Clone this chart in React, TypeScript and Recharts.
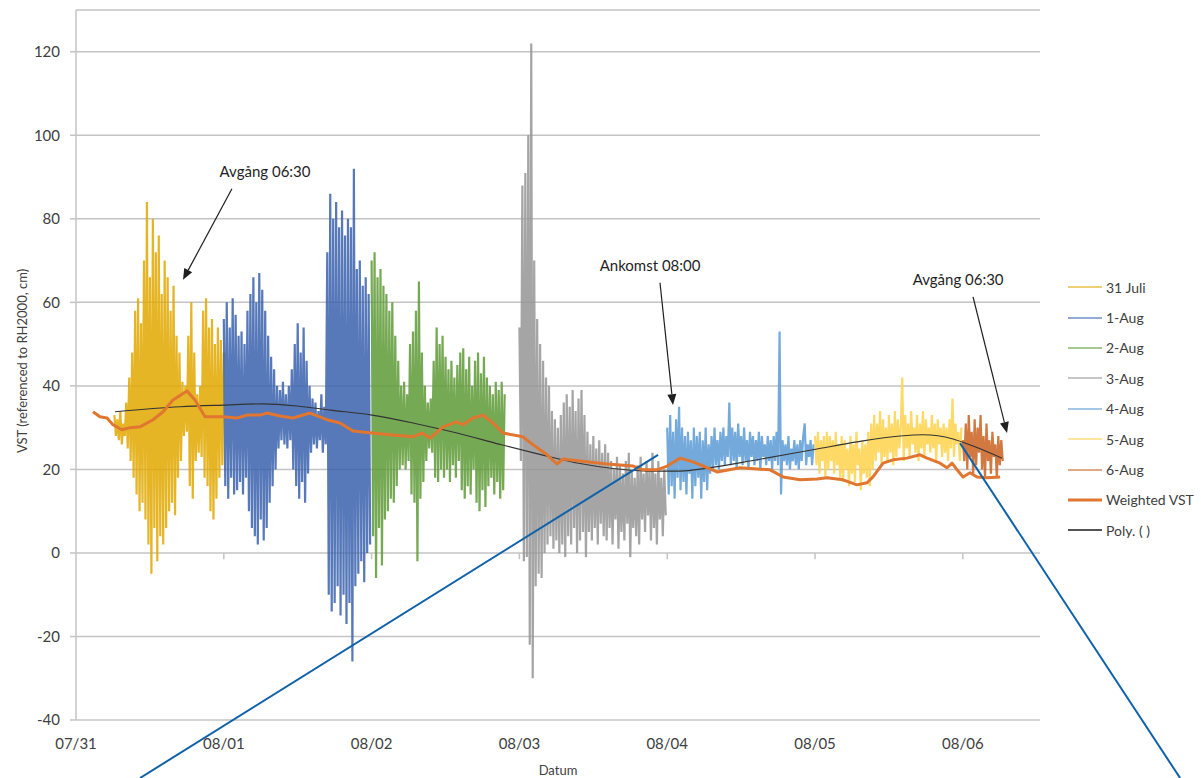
import React from 'react';
import { ComposedChart, Line, XAxis, YAxis, CartesianGrid, ReferenceLine, ReferenceDot } from 'recharts';

// sample spacing of the raw VST records (days)
const STEP = 0.01;

const dayTicks = [0, 1, 2, 3, 4, 5, 6];
const dayLabels = ['07/31', '08/01', '08/02', '08/03', '08/04', '08/05', '08/06'];
const yTicks = [-40, -20, 0, 20, 40, 60, 80, 100, 120];

const seriesNames = ['31 Juli', '1-Aug', '2-Aug', '3-Aug', '4-Aug', '5-Aug', '6-Aug'];
const seriesStarts = [0.26, 1.0, 2.0, 3.0, 4.0, 5.0, 6.0];
const seriesColors = ['#E2A800', '#3A62AE', '#5E9A36', '#959595', '#5B9BD5', '#FFD24A', '#C9621E'];

const juli31 = [
  33, 28, 32, 27, 34, 26, 31, 28, 36, 25,
  42, 22, 48, 18, 58, 14, 61, 10, 55, 12,
  70, 8, 84, 2, 66, -5, 80, 6, 72, -2,
  76, 4, 62, 2, 70, 6, 66, 10, 58, 12,
  64, 9, 52, 18, 48, 22, 41, 28, 40, 29,
  52, 16, 60, 13, 48, 22, 38, 24, 40, 23,
  58, 18, 61, 16, 54, 10, 56, 8, 50, 13,
  54, 18, 51, 21, 48,
];
const aug1 = [
  56, 16, 60, 13, 54, 18, 61, 14, 57, 15,
  52, 17, 53, 14, 50, 18, 58, 10, 62, 6,
  66, 4, 60, 2, 67, 8, 63, 3, 58, 6,
  52, 12, 47, 16, 44, 20, 40, 25, 39, 27,
  41, 26, 38, 25, 40, 27, 44, 20, 50, 16,
  55, 13, 48, 17, 54, 12, 46, 19, 40, 24,
  37, 26, 36, 25, 34, 27, 38, 24, 35, 26,
  72, -10, 86, -14, 80, -12, 84, -8, 78, -15,
  82, -10, 76, -17, 80, -12, 78, -26, 92, -8,
  68, -5, 70, -2, 64, -7, 66, 0, 62, 2,
];
const aug2 = [
  70, 4, 72, -6, 66, 6, 68, -3, 64, 8,
  62, 10, 58, 13, 60, 12, 52, 16, 46, 20,
  40, 21, 41, 20, 38, 22, 50, 14, 53, 12,
  58, -2, 65, 13, 48, 17, 40, 22, 36, 25,
  37, 24, 46, 18, 54, 17, 50, 20, 52, 18,
  47, 20, 44, 17, 46, 21, 42, 18, 45, 22,
  48, 15, 49, 13, 44, 16, 47, 14, 40, 20,
  46, 12, 48, 10, 43, 15, 47, 11, 42, 16,
  40, 18, 38, 14, 41, 17, 39, 13, 41, 15,
  38,
];
const aug3 = [
  54, 22, 88, -2, 91, -1, 100, -22, 122, -30,
  70, -8, 56, -5, 50, -6, 46, 0, 42, 2,
  40, 4, 34, 1, 32, 3, 30, 0, 33, 2,
  36, -1, 38, 4, 35, 2, 39, 6, 34, 0,
  37, 3, 39, 5, 33, -1, 29, 5, 26, 3,
  28, 6, 25, 2, 27, 7, 24, 4, 26, 3,
  24, 6, 22, 2, 20, 8, 23, 1, 21, 5,
  19, 3, 22, 7, 24, -1, 20, 6, 18, 4,
  21, 2, 23, 8, 19, 5, 22, 9, 20, 3,
  24, 6, 19, 2, 22, 8, 18, 4, 20, 9,
];
const aug4 = [
  30, 14, 33, 16, 29, 13, 32, 18, 35, 15,
  30, 17, 28, 14, 29, 19, 27, 13, 30, 16,
  28, 18, 29, 13, 27, 17, 30, 15, 26, 19,
  28, 20, 30, 21, 27, 20, 29, 22, 30, 21,
  28, 23, 36, 21, 30, 22, 29, 20, 31, 23,
  28, 21, 30, 22, 27, 20, 29, 23, 28, 21,
  27, 22, 29, 20, 28, 23, 26, 21, 28, 22,
  27, 20, 28, 22, 29, 21, 53, 14, 27, 22,
  26, 21, 28, 20, 25, 22, 27, 21, 26, 20,
  27, 22, 28, 31, 21, 26, 23, 27, 21, 26,
];
const aug5 = [
  28, 21, 29, 19, 27, 22, 28, 18, 29, 20,
  28, 22, 27, 19, 29, 21, 26, 18, 28, 17,
  27, 20, 25, 16, 28, 19, 26, 17, 29, 21,
  25, 15, 27, 19, 26, 18, 29, 16, 31, 20,
  33, 22, 31, 24, 34, 21, 32, 23, 30, 22,
  33, 24, 31, 21, 34, 23, 32, 25, 30, 42,
  22, 33, 25, 31, 23, 34, 26, 30, 24, 33,
  22, 31, 25, 34, 23, 32, 26, 30, 24, 33,
  25, 31, 22, 32, 26, 30, 23, 31, 24, 30,
  22, 32, 25, 37, 23, 31, 26, 29, 22, 30,
];
const aug6 = [
  27, 22, 31, 20, 33, 23, 29, 19, 32, 21,
  30, 24, 33, 20, 28, 18, 31, 22, 27, 19,
  29, 23, 26, 18, 28, 21, 27, 22,
];

const weightedDays = [
  0.115, 0.162, 0.21, 0.25, 0.311, 0.365, 0.433, 0.521, 0.589, 0.656, 0.751, 0.805, 0.873, 0.995,
  1.089, 1.157, 1.245, 1.292, 1.38, 1.468, 1.583, 1.698, 1.786, 1.874, 2.003, 2.125, 2.28, 2.341,
  2.395, 2.483, 2.578, 2.618, 2.686, 2.754, 2.821, 2.889, 3.024, 3.092, 3.187, 3.254, 3.295, 3.41,
  3.593, 3.769, 3.836, 3.931, 3.999, 4.087, 4.175, 4.269, 4.337, 4.493, 4.696, 4.784, 4.899, 5.014,
  5.081, 5.189, 5.284, 5.352, 5.392, 5.46, 5.528, 5.622, 5.71, 5.758, 5.846, 5.893, 5.927, 5.961,
  6.001, 6.049, 6.096, 6.164, 6.252,
];
const weightedValues = [
  33.8, 32.6, 32.3, 30.7, 29.5, 30.0, 30.2, 31.9, 33.8, 36.6, 38.8, 36.6, 32.6, 32.6,
  32.3, 33.0, 33.0, 33.5, 32.8, 32.3, 33.5, 31.9, 31.1, 29.2, 28.7, 28.3, 27.8, 28.7,
  27.5, 30.2, 31.4, 30.7, 32.3, 33.0, 31.1, 28.7, 27.8, 25.9, 23.5, 21.3, 22.5, 22.0,
  21.3, 20.8, 19.9, 19.9, 20.8, 22.7, 21.8, 20.4, 19.4, 20.4, 19.9, 18.2, 17.5, 17.7,
  18.0, 17.5, 16.3, 16.8, 18.2, 21.5, 22.3, 22.7, 23.5, 22.7, 21.5, 20.4, 21.5, 19.9,
  18.2, 19.2, 18.2, 18.0, 18.2,
];

const polyDays = [
  0.264, 0.704, 0.995, 1.265, 1.495, 1.719, 2.003, 2.294, 2.578, 2.869, 3.139, 3.41,
  3.633, 3.863, 4.087, 4.269, 4.608, 5.014, 5.284, 5.575, 5.731, 5.934, 6.069, 6.265,
];
const polyValues = [
  33.8, 35.0, 35.4, 35.7, 35.2, 34.2, 33.0, 31.0, 28.7, 26.0, 23.6, 21.4,
  20.2, 19.6, 19.6, 20.3, 22.3, 24.9, 26.6, 28.0, 28.3, 27.3, 25.6, 22.7,
];

const annotationTexts = ['Avgång 06:30', 'Ankomst 08:00', 'Avgång 06:30'];
const annotationTextAt = [[1.279, 91.2], [3.884, 68.7], [5.968, 65.4]];
const arrowTails = [[1.055, 87.2], [3.951, 64.7], [6.069, 61.3]];
const arrowTips = [[0.724, 65.4], [4.039, 35.4], [6.299, 28.7]];
const calloutLines = [
  [[0.433, -53.9], [3.938, 23.5]],
  [[5.981, 26.3], [7.47, -53.9]],
];

const FONT = 'Lato, "Open Sans", sans-serif';
const GRID = '#C4C4C4';
const TEXT = '#404040';

const rawSeries = [juli31, aug1, aug2, aug3, aug4, aug5, aug6].map((vals, k) =>
  vals.map((v, i) => ({ d: seriesStarts[k] + i * STEP, v }))
);
const weightedData = weightedDays.map((d, i) => ({ d, v: weightedValues[i] }));
const polyData = polyDays.map((d, i) => ({ d, v: polyValues[i] }));

const Arrow = (p: any) => {
  const { x1, y1, x2, y2 } = p;
  const a = Math.atan2(y2 - y1, x2 - x1);
  const len = 11;
  const half = 4.5;
  const bx = x2 - len * Math.cos(a);
  const by = y2 - len * Math.sin(a);
  const pts = `${x2},${y2} ${bx - half * Math.sin(a)},${by + half * Math.cos(a)} ${bx + half * Math.sin(a)},${by - half * Math.cos(a)}`;
  return (
    <g>
      <line x1={x1} y1={y1} x2={bx} y2={by} stroke="#1f1f1f" strokeWidth={1.2} />
      <polygon points={pts} fill="#1f1f1f" />
    </g>
  );
};

const YTitle = (p: any) => {
  const { x, y, height } = p.viewBox;
  const cx = x + 2;
  const cy = y + height / 2 - 4;
  return (
    <text x={cx} y={cy} transform={`rotate(-90, ${cx}, ${cy})`} textAnchor="middle" dominantBaseline="central"
      fill={TEXT} fontSize={13} fontFamily={FONT}>
      VST (referenced to RH2000, cm)
    </text>
  );
};

function LegendBox() {
  const items = [
    ...seriesNames.map((name, i) => ({ name, color: seriesColors[i], w: 2, o: 0.55 })),
    { name: 'Weighted VST', color: '#E0762F', w: 3, o: 1 },
    { name: 'Poly. ( )', color: '#555555', w: 2, o: 1 },
  ];
  return (
    <div style={{ position: 'absolute', left: 1067, top: 272, fontFamily: FONT, fontSize: 14, color: TEXT }}>
      {items.map((it) => (
        <div key={it.name} style={{ height: 30.4, display: 'flex', alignItems: 'center' }}>
          <svg width={36} height={10} style={{ marginRight: 3 }}>
            <line x1={1} y1={5} x2={35} y2={5} stroke={it.color} strokeWidth={it.w} strokeOpacity={it.o} />
          </svg>
          <span style={{ whiteSpace: 'nowrap' }}>{it.name}</span>
        </div>
      ))}
    </div>
  );
}

export default function App() {
  return (
    <div style={{ position: 'absolute', left: 0, top: 0, width: 1201, height: 778, background: '#fff', overflow: 'hidden' }}>
      <ComposedChart width={1201} height={778} margin={{ top: 10, right: 161, left: 20, bottom: 0 }}>
        <CartesianGrid horizontal vertical={false} stroke={GRID} strokeWidth={1.5} />
        <XAxis
          dataKey="d"
          type="number"
          domain={[0, 6.522]}
          allowDataOverflow
          ticks={dayTicks}
          tickFormatter={(v: number) => dayLabels[dayTicks.indexOf(v)] ?? ''}
          axisLine={false}
          tickLine={false}
          tickSize={0}
          tickMargin={18}
          height={58}
          tick={{ fill: TEXT, fontSize: 15, fontFamily: FONT }}
          label={{ value: 'Datum', position: 'insideBottom', offset: 3, fill: TEXT, fontSize: 13, fontFamily: FONT }}
        />
        <YAxis
          type="number"
          domain={[-40, 130]}
          allowDataOverflow
          ticks={yTicks}
          interval={0}
          width={56}
          axisLine={{ stroke: GRID, strokeWidth: 1.5 }}
          tickLine={{ stroke: GRID, strokeWidth: 1.5 }}
          tickSize={6}
          tickMargin={10}
          tick={{ fill: TEXT, fontSize: 15, fontFamily: FONT }}
          label={{ content: YTitle }}
        />
        {dayTicks.slice(1).map((d) => (
          <ReferenceLine key={`tm${d}`} segment={[{ x: d, y: 0 }, { x: d, y: -1.5 }]} stroke={GRID} strokeWidth={1.5} ifOverflow="visible" />
        ))}
        {rawSeries.map((data, i) => (
          <Line
            key={seriesNames[i]}
            data={data}
            dataKey="v"
            name={seriesNames[i]}
            type="linear"
            stroke={seriesColors[i]}
            strokeWidth={2.2}
            strokeOpacity={0.85}
            strokeLinejoin="miter"
            dot={false}
            activeDot={false}
            isAnimationActive={false}
          />
        ))}
        <Line data={polyData} dataKey="v" name="Poly. ( )" type="monotone" stroke="#333333" strokeWidth={1.1}
          dot={false} activeDot={false} isAnimationActive={false} />
        <Line data={weightedData} dataKey="v" name="Weighted VST" type="linear" stroke="#E0762F" strokeWidth={3}
          strokeLinejoin="round" dot={false} activeDot={false} isAnimationActive={false} />
        {arrowTails.map((t, i) => (
          <ReferenceLine key={`ar${i}`} segment={[{ x: t[0], y: t[1] }, { x: arrowTips[i][0], y: arrowTips[i][1] }]}
            ifOverflow="visible" shape={Arrow} />
        ))}
        {annotationTexts.map((txt, i) => (
          <ReferenceDot key={`tx${i}`} x={annotationTextAt[i][0]} y={annotationTextAt[i][1]} r={0} fill="none" stroke="none"
            ifOverflow="visible"
            label={{ value: txt, position: 'center', fill: '#1f1f1f', fontSize: 15, fontFamily: FONT }} />
        ))}
        {calloutLines.map((seg, i) => (
          <ReferenceLine key={`cl${i}`} segment={[{ x: seg[0][0], y: seg[0][1] }, { x: seg[1][0], y: seg[1][1] }]}
            stroke="#0F62AA" strokeWidth={2} ifOverflow="visible" />
        ))}
      </ComposedChart>
      <LegendBox />
    </div>
  );
}
